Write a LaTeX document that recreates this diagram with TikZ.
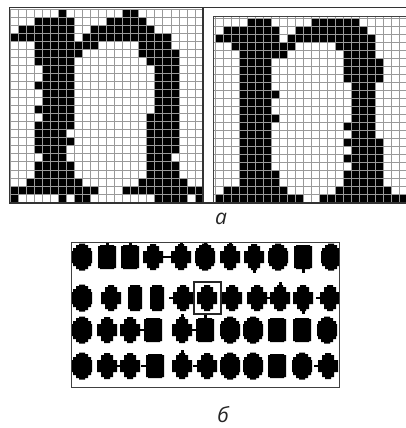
\documentclass[tikz,border=0pt]{standalone}
\usepackage{fontspec}
\newfontfamily\labfont{Open Sans}
\tikzset{
  cell/.style={fill=black},
  gridline/.style={draw=black!40, line width=0.6pt},
  outerframe/.style={draw=black!80, line width=1.5pt},
  thinframe/.style={draw=black!75, line width=0.9pt},
  blobfill/.style={fill=black},
  markbox/.style={draw=black!85, line width=1.3pt},
  lab/.style={font=\labfont\itshape\fontsize{21}{21}\selectfont, inner sep=0pt, text=black!85}
}
\newcommand\blobshapeR{\fill[blobfill] (-3,-13.5) -- (3,-13.5) -- (3,-12) -- (6,-12) -- (6,-9) -- (9,-9) -- (9,-6) -- (10,-6) -- (10,6) -- (9,6) -- (9,9) -- (6,9) -- (6,12) -- (3,12) -- (3,13.5) -- (-3,13.5) -- (-3,12) -- (-6,12) -- (-6,9) -- (-9,9) -- (-9,6) -- (-10,6) -- (-10,-6) -- (-9,-6) -- (-9,-9) -- (-6,-9) -- (-6,-12) -- (-3,-12) -- cycle;}
\newcommand\blobshapeC{\fill[blobfill] (-3,-13) -- (3,-13) -- (3,-11) -- (6,-11) -- (6,-6) -- (10,-6) -- (10,6) -- (6,6) -- (6,11) -- (3,11) -- (3,13) -- (-3,13) -- (-3,11) -- (-6,11) -- (-6,6) -- (-10,6) -- (-10,-6) -- (-6,-6) -- (-6,-11) -- (-3,-11) -- cycle;}
\newcommand\blobshapeS{\fill[blobfill] (-7,-12) -- (7,-12) -- (7,-11) -- (9,-11) -- (9,11) -- (7,11) -- (7,12) -- (-7,12) -- (-7,11) -- (-9,11) -- (-9,-11) -- (-7,-11) -- cycle;}
\newcommand\blobshapeN{\fill[blobfill] (-5,-13) -- (5,-13) -- (5,-11) -- (7,-11) -- (7,11) -- (5,11) -- (5,13) -- (-5,13) -- (-5,11) -- (-7,11) -- (-7,-11) -- (-5,-11) -- cycle;}
\newcommand\blobstubl{\fill[blobfill] (-14.5,-1.2) rectangle (-9,1.2);}
\newcommand\blobstubr{\fill[blobfill] (9,-1.2) rectangle (14.5,1.2);}
\newcommand\blobstubt{\fill[blobfill] (-1.5,-16) rectangle (1.5,-12);}
\newcommand\blobstubb{\fill[blobfill] (-1.5,12) rectangle (1.5,16);}
\newcommand\blobstubn{}
\newcommand\blobrow[2]{%
  \foreach \x/\t/\p/\q in {#2}{%
    \begin{scope}[shift={(\x,#1)}]
      \csname blobshape\t\endcsname
      \csname blobstub\p\endcsname
      \csname blobstub\q\endcsname
    \end{scope}}}
\begin{document}
\begin{tikzpicture}[x=1pt,y=-1pt]
\fill[white] (0,0) rectangle (406,428);
\useasboundingbox (0,0) rectangle (406,428);

% ---------- left grid ----------
\foreach \r/\a/\b in {0/6/6,0/14/15,1/3/7,1/12/16,2/1/7,2/10/17,3/0/7,3/9/19,
  4/3/10,4/16/19,5/3/8,5/16/20,6/3/7,6/17/20,7/4/7,7/18/20,8/4/7,8/18/20,
  9/3/7,9/18/20,10/4/7,10/18/20,11/4/7,11/18/20,12/3/7,12/18/20,13/4/7,13/17/20,
  14/3/7,14/17/20,15/3/6,15/17/20,16/3/7,16/17/20,17/3/6,17/17/20,18/4/6,18/17/19,
  19/3/7,19/17/20,20/3/7,20/17/20,21/2/8,21/16/21,22/0/10,22/14/23,
  23/0/0,23/6/6,23/8/9,23/18/21,23/23/23}
  \fill[cell] ({10+\a*8.04},{9+\r*8.04}) rectangle ({10+(\b+1)*8.04},{9+(\r+1)*8.04});
\foreach \i in {0,...,24}{
  \draw[gridline] ({10+\i*8.04},9) -- ({10+\i*8.04},202);
  \draw[gridline] (10,{9+\i*8.04}) -- (203,{9+\i*8.04});
}

% ---------- right grid ----------
\begin{scope}
\clip (214,16) rectangle (406,203);
\foreach \r/\a/\b in {0/4/6,0/12/17,1/1/7,1/10/18,2/0/7,2/9/19,3/2/9,3/15/19,
  4/3/8,4/16/19,5/3/6,5/16/20,6/3/6,6/16/20,7/3/6,7/16/20,8/3/6,8/17/19,
  9/3/7,9/17/19,10/3/6,10/17/19,11/3/6,11/17/19,12/3/7,12/17/19,13/3/6,13/16/19,
  14/3/6,14/17/19,15/3/6,15/16/20,16/3/6,16/17/20,17/3/6,17/16/20,18/3/6,18/17/20,
  19/3/7,19/16/20,20/3/7,20/16/20,21/1/8,21/15/21,22/0/10,22/13/23}
  \fill[cell] ({215+\a*8},{18+\r*8}) rectangle ({215+(\b+1)*8},{18+(\r+1)*8});
\foreach \i in {0,...,24}
  \draw[gridline] ({215+\i*8},16) -- ({215+\i*8},202);
\foreach \i in {0,...,23}
  \draw[gridline] (214,{18+\i*8}) -- (406,{18+\i*8});
\end{scope}

% ---------- frames ----------
\draw[outerframe] (406,7.5) -- (9.5,7.5) -- (9.5,203) -- (406,203);
\draw[outerframe] (203,7.5) -- (203,203);
\draw[thinframe] (406,16) -- (213.5,16) -- (213.5,203);

\node[lab] (la) at (221,219) {а};

% ---------- blob panel ----------
\begin{scope}
\clip (71,242) rectangle (339,387);
\blobrow{257}{82/R/l/n,107/S/t/n,130/S/t/n,153/C/r/n,181/C/t/l,205/R/t/n,230/C/t/n,254/C/b/n,278/R/n/n,303/S/b/n,331/R/n/n}
\blobrow{298}{82/R/n/n,111/C/n/n,135/N/n/n,157/N/n/n,183/C/l/n,207/C/n/n,232/C/n/n,257/C/n/n,280/C/t/l,303/C/b/n,330/C/l/n}
\blobrow{330}{82/R/n/n,107/C/n/n,130/C/n/n,153/S/l/n,182/C/t/r,205/S/t/n,230/R/n/n,253/R/n/n,277/S/n/n,302/S/n/n,327/R/n/n}
\blobrow{366}{82/R/n/n,107/C/r/n,130/C/n/n,155/S/l/n,182/C/t/n,207/C/l/n,230/R/n/n,253/R/n/n,277/S/n/n,302/R/n/n,328/C/l/n}
\end{scope}
\draw[thinframe] (71,242) rectangle (339,387);
\draw[markbox] (194,282) rectangle (221,314);

\node[lab] (lb) at (223,415) {б};
\end{tikzpicture}
\end{document}
